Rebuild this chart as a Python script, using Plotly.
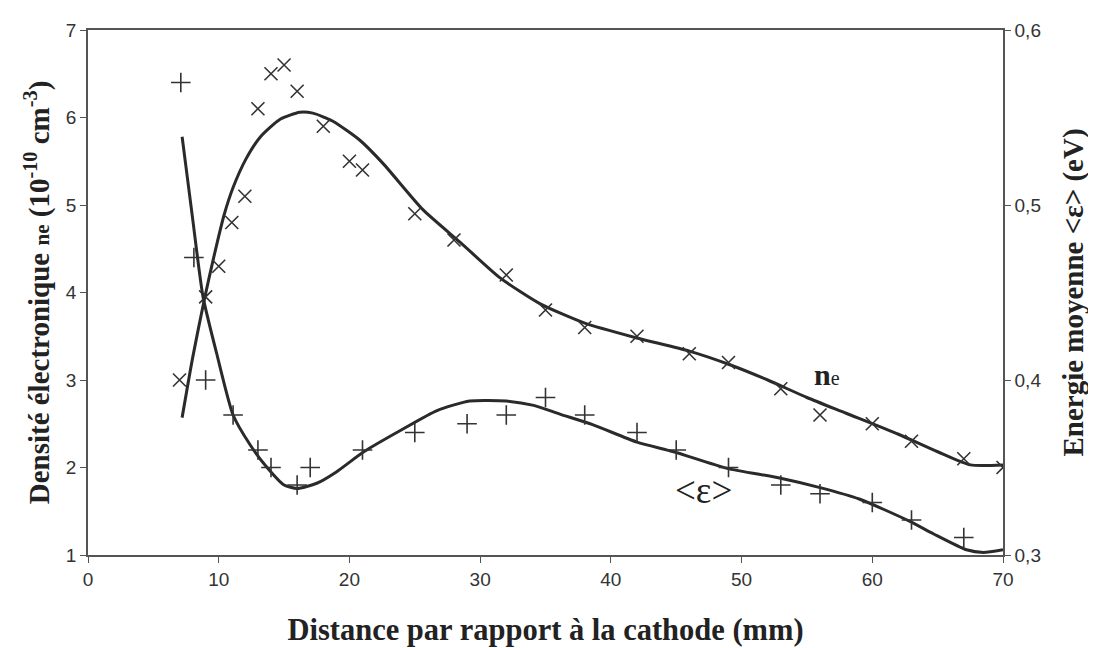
import plotly.graph_objects as go

# --- Data ---
# electron density markers (x) : distance (mm), ne (10^10 cm^-3)
ne_x = [7, 9, 10, 11, 12, 13, 14, 15, 16, 18, 20, 21, 25, 28, 32, 35, 38, 42, 46, 49, 53, 56, 60, 63, 67, 70]
ne_y = [3.0, 3.95, 4.3, 4.8, 5.1, 6.1, 6.5, 6.6, 6.3, 5.9, 5.5, 5.4, 4.9, 4.6, 4.2, 3.8, 3.6, 3.5, 3.3, 3.2, 2.9, 2.6, 2.5, 2.3, 2.1, 2.0]

# electron density fitted curve
ne_fit_x = [7.2, 8.0, 8.9, 9.6, 10.4, 11.1, 12.1, 13.2, 14.7, 16.2, 17.2, 18.7, 20.8, 22.6, 25.6, 28.5, 31.5, 34.6, 38, 42, 46, 49, 52, 55, 58, 62, 65, 67.5, 70]
ne_fit_y = [2.57, 3.25, 3.92, 4.39, 4.88, 5.2, 5.53, 5.78, 5.98, 6.06, 6.05, 5.96, 5.74, 5.47, 4.95, 4.57, 4.17, 3.87, 3.65, 3.48, 3.33, 3.18, 3.0, 2.8, 2.62, 2.38, 2.18, 2.03, 2.03]

# mean energy markers (+) : distance (mm), <eps> (eV)
en_x = [7.1, 8.1, 9, 11.1, 13, 14, 16, 17, 21, 25, 29, 32, 35, 38, 42, 45, 49, 53, 56, 60, 63, 67]
en_y = [0.57, 0.47, 0.40, 0.38, 0.36, 0.35, 0.34, 0.35, 0.36, 0.37, 0.375, 0.38, 0.39, 0.38, 0.37, 0.36, 0.35, 0.34, 0.335, 0.33, 0.32, 0.31]

# mean energy fitted curve
en_fit_x = [7.2, 8.0, 8.8, 9.85, 11.1, 12.4, 13.7, 15.0, 16.0, 17.5, 19.0, 21.1, 24.1, 26.7, 29.2, 32.0, 34.1, 36.1, 38.6, 42.0, 44.8, 48.9, 52.9, 56.0, 59.0, 62.8, 64.7, 67.2, 68.5, 70]
en_fit_y = [0.539, 0.4925, 0.4475, 0.415, 0.38, 0.363, 0.35, 0.34, 0.338, 0.341, 0.3475, 0.359, 0.372, 0.3825, 0.388, 0.388, 0.3855, 0.3805, 0.3745, 0.3645, 0.359, 0.3495, 0.344, 0.3385, 0.332, 0.3195, 0.312, 0.303, 0.3015, 0.303]

x_ticks = [0, 10, 20, 30, 40, 50, 60, 70]
left_ticks = [1, 2, 3, 4, 5, 6, 7]
right_ticks = [0.3, 0.4, 0.5, 0.6]
right_tick_text = ["0,3", "0,4", "0,5", "0,6"]

LINE = "#2a2a2a"
AX = "#555555"
SERIF = "Liberation Serif, Times New Roman, serif"
SANS = "Liberation Sans, Arial, sans-serif"

fig = go.Figure()

fig.add_trace(go.Scatter(x=ne_fit_x, y=ne_fit_y, mode="lines",
                         line=dict(color=LINE, width=3, shape="spline", smoothing=0.6),
                         showlegend=False, hoverinfo="skip"))
fig.add_trace(go.Scatter(x=ne_x, y=ne_y, mode="markers",
                         marker=dict(symbol="x-thin", size=13, line=dict(color="#333333", width=1.6)),
                         showlegend=False))
fig.add_trace(go.Scatter(x=en_fit_x, y=en_fit_y, mode="lines", yaxis="y2",
                         line=dict(color=LINE, width=3, shape="spline", smoothing=0.6),
                         showlegend=False, hoverinfo="skip"))
fig.add_trace(go.Scatter(x=en_x, y=en_y, mode="markers", yaxis="y2",
                         marker=dict(symbol="cross-thin", size=14, line=dict(color="#333333", width=1.6)),
                         showlegend=False))

fig.add_annotation(x=56.5, y=3.06, xref="x", yref="y", showarrow=False,
                   text="<b>n</b><span style='font-size:20px'>e</span>",
                   font=dict(family=SERIF, size=30, color="#222222"))
fig.add_annotation(x=47.05, y=1.74, xref="x", yref="y", showarrow=False,
                   text="&lt;ε&gt;",
                   font=dict(family=SERIF, size=37, color="#222222"))

# the page body adds an 8px offset, so margins are shifted to keep the plot area
# at the same place as in the reference
fig.update_layout(
    width=1096, height=648,
    margin=dict(l=80, r=101, t=13, b=101),
    paper_bgcolor="white", plot_bgcolor="white",
    xaxis=dict(range=[0, 70], tickvals=x_ticks, showgrid=False, zeroline=False,
               showline=True, mirror=True, linecolor=AX, linewidth=1.5,
               ticks="outside", ticklen=6, tickcolor=AX, tickwidth=1.2,
               tickfont=dict(family=SANS, size=19, color="#333333"),
               title=dict(text="<b>Distance par rapport à la cathode (mm)</b>",
                          font=dict(family=SERIF, size=30.5, color="#222222"), standoff=30)),
    yaxis=dict(range=[1, 7], tickvals=left_ticks, showgrid=False, zeroline=False,
               showline=True, linecolor=AX, linewidth=1.5,
               ticks="outside", ticklen=6, tickcolor=AX, tickwidth=1.2,
               tickfont=dict(family=SANS, size=19, color="#333333"),
               title=dict(text="<b>Densité électronique <span style='font-size:21px'>ne</span> (10<sup>-10</sup> cm<sup>-3</sup>)</b>",
                          font=dict(family=SERIF, size=29, color="#222222"), standoff=8)),
    yaxis2=dict(range=[0.3, 0.6], tickvals=right_ticks, ticktext=right_tick_text,
                overlaying="y", side="right", showgrid=False, zeroline=False,
                showline=True, linecolor=AX, linewidth=1.5,
                ticks="outside", ticklen=6, tickcolor=AX, tickwidth=1.2,
                tickfont=dict(family=SANS, size=19, color="#333333"),
                title=dict(text="<b>Energie moyenne &lt;ε&gt; (eV)</b>",
                           font=dict(family=SERIF, size=29, color="#222222"), standoff=22)),
)

fig.write_html("out.html")
